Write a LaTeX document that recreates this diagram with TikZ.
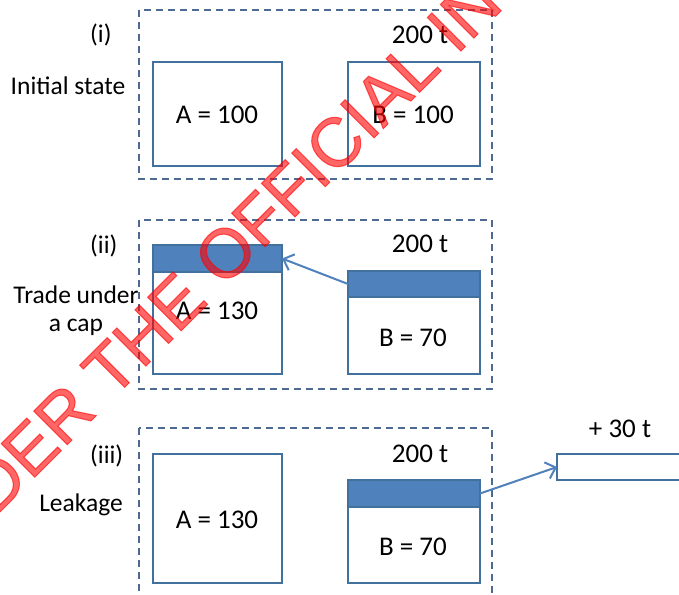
\documentclass[tikz,border=0pt]{standalone}
\usepackage{fontspec}
\setmainfont{Carlito}
\newfontfamily\wmfont[FakeBold=1.5]{Liberation Sans}
\usetikzlibrary{arrows.meta}
\definecolor{frameblue}{HTML}{41719C}
\definecolor{barblue}{HTML}{4F81BD}
\definecolor{dashblue}{HTML}{4E6A93}
\definecolor{arrblue}{HTML}{4F81BD}
\begin{document}
\begin{tikzpicture}[x=1pt,y=-1pt,
  panel/.style={draw=dashblue,line width=1.2pt,dash pattern=on 7pt off 5pt},
  valbox/.style={draw=frameblue,line width=1.2pt,inner sep=0pt,outer sep=0pt,fill=white},
  barbox/.style={draw=frameblue,line width=1.2pt,fill=barblue,inner sep=0pt,outer sep=0pt},
  val/.style={font=\fontsize{27}{32}\selectfont,inner sep=0pt},
  lab/.style={font=\fontsize{25.5}{30}\selectfont,inner sep=0pt,align=center},
  arr/.style={draw=arrblue,line width=2pt,-{Straight Barb[length=9pt,width=17pt]}},
  wm/.style={font=\wmfont\fontsize{69}{72}\selectfont,text=red,opacity=0.6,inner sep=0pt}]
\useasboundingbox (0,0) rectangle (679,594);
\clip (0,0) rectangle (679,594);
\fill[white] (0,0) rectangle (679,594);

% panel (i)
\draw[panel] (139,10) rectangle (492,179);
\node[lab,anchor=west] (n1) at (90,35) {(i)};
\node[lab] (l1) at (68,86) {Initial state};
\node[val] (t1) at (420,35) {200 t};
\node[valbox,minimum width=129pt,minimum height=104pt] (A1) at (217.5,114) {};
\node[valbox,minimum width=132pt,minimum height=104pt] (B1) at (414,114) {};
\node[val] (a1) at (217,115) {A = 100};
\node[val] (b1) at (413,115) {B = 100};

% panel (ii)
\draw[panel] (139,220) rectangle (492,389);
\node[lab,anchor=west] (n2) at (90,246) {(ii)};
\node[lab] (l2) at (76,311) {Trade under\\[-2pt]a cap};
\node[val] (t2) at (420,244) {200 t};
\node[valbox,minimum width=129pt,minimum height=129pt] (A2) at (217.5,309.5) {};
\node[barbox,minimum width=129pt,minimum height=27pt] (A2bar) at (217.5,258.5) {};
\node[valbox,minimum width=132pt,minimum height=103pt] (B2) at (414,322.5) {};
\node[barbox,minimum width=132pt,minimum height=26pt] (B2bar) at (414,284) {};
\node[val] (a2) at (217,311) {A = 130};
\node[val] (b2) at (413,338) {B = 70};
\draw[arr] (B2bar.west) -- (A2bar.east);

% panel (iii)
\draw[panel] (139,428) rectangle (492,640);
\node[lab,anchor=west] (n3) at (90,456) {(iii)};
\node[lab] (l3) at (81,505) {Leakage};
\node[val] (t3) at (420,454) {200 t};
\node[valbox,minimum width=129pt,minimum height=129pt] (A3) at (217.5,518.5) {};
\node[valbox,minimum width=132pt,minimum height=103pt] (B3) at (414,531.5) {};
\node[barbox,minimum width=132pt,minimum height=27pt] (B3bar) at (414,493.5) {};
\node[val] (a3) at (217,520) {A = 130};
\node[val] (b3) at (413,547) {B = 70};
\node[valbox,minimum width=143pt,minimum height=26pt] (leak) at (628.5,467) {};
\node[val] (p3) at (620,429) {+ 30 t};
\draw[arr] (B3bar.east) -- (leak.west);

% watermark
\node[wm,rotate=45,anchor=base west] (wmk) at (-75,587) {UNDER THE OFFICIAL IN};
\end{tikzpicture}
\end{document}
